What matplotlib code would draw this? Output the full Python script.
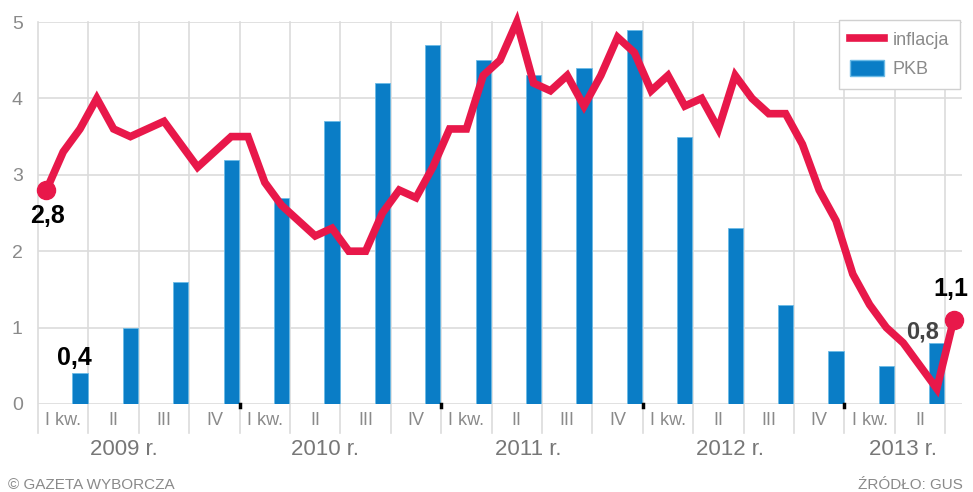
import numpy as np
import matplotlib.pyplot as plt
import matplotlib.transforms as mtransforms
from matplotlib.lines import Line2D
from matplotlib.patches import Patch

# Inflacja r/r, miesięcznie od stycznia 2009 do lipca 2013
inflacja = [2.8, 3.3, 3.6, 4.0, 3.6, 3.5, 3.6, 3.7, 3.4, 3.1, 3.3, 3.5,
            3.5, 2.9, 2.6, 2.4, 2.2, 2.3, 2.0, 2.0, 2.5, 2.8, 2.7, 3.1,
            3.6, 3.6, 4.3, 4.5, 5.0, 4.2, 4.1, 4.3, 3.9, 4.3, 4.8, 4.6,
            4.1, 4.3, 3.9, 4.0, 3.6, 4.3, 4.0, 3.8, 3.8, 3.4, 2.8, 2.4,
            1.7, 1.3, 1.0, 0.8, 0.5, 0.2, 1.1]

# PKB r/r, kwartalnie od I kw. 2009 do II kw. 2013
pkb = [0.4, 1.0, 1.6, 3.2,
       2.7, 3.7, 4.2, 4.7,
       4.5, 4.3, 4.4, 4.9,
       3.5, 2.3, 1.3, 0.7,
       0.5, 0.8]

kwartaly = ['I kw.', 'II', 'III', 'IV']
lata = ['2009 r.', '2010 r.', '2011 r.', '2012 r.', '2013 r.']
lata_x = [4.6, 16.6, 28.7, 40.7, 51.0]

RED = '#e8184a'
BLUE = '#0a7dc6'
GRAY = '#8a8a8a'
GRID = '#dcdcdc'

plt.rcParams['font.family'] = ['Liberation Sans', 'DejaVu Sans']

fig = plt.figure(figsize=(9.73, 4.92), dpi=100)
ax = fig.add_axes([38 / 973, 1 - 404 / 492, 924 / 973, 382 / 492])

n_m = len(inflacja)
n_q = len(pkb)
xm = np.arange(n_m)
xq = np.arange(n_q) * 3 + 2.0

ax.bar(xq, pkb, width=0.9, color=BLUE, edgecolor='#6cbbe6', linewidth=0.6, zorder=2)
ax.plot(xm, inflacja, color=RED, lw=5.5, solid_joinstyle='miter', zorder=4, clip_on=False)
ax.plot([xm[0], xm[-1]], [inflacja[0], inflacja[-1]], 'o', color=RED, ms=13,
        zorder=5, clip_on=False)

ax.set_xlim(-0.5, n_m - 0.5)
ax.set_ylim(0, 5)
for s in ax.spines.values():
    s.set_visible(False)

# siatka pozioma
ax.set_yticks(range(6))
ax.yaxis.grid(True, color=GRID, lw=1.2, zorder=0)
ax.tick_params(axis='y', length=0, pad=11, labelsize=14, labelcolor=GRAY)

# kreski kwartałów, wychodzą pod oś
bounds = np.arange(0, n_q + 1) * 3 - 0.5
trans = mtransforms.blended_transform_factory(ax.transData, ax.transAxes)
ax.set_xticks([])
for b in bounds:
    ax.plot([b, b], [-0.076, 1], color=GRID, lw=1.2, transform=trans,
            clip_on=False, zorder=0)
for b in bounds[4:-1:4]:
    ax.plot([b, b], [0, -0.008], color='black', lw=2.5, transform=trans,
            clip_on=False, zorder=3)

for i in range(n_q):
    ax.text(i * 3 + 1, -0.042, kwartaly[i % 4], transform=trans, ha='center',
            va='center', fontsize=13, color=GRAY)
for x, t in zip(lata_x, lata):
    ax.text(x, -0.12, t, transform=trans, ha='center', va='center',
            fontsize=16, color='#777777')

# podpisy wartości
ax.annotate('2,8', (xm[0], inflacja[0]), xytext=(1, -19), textcoords='offset points',
            ha='center', va='center', fontsize=18, fontweight='bold', color='black', zorder=6)
ax.annotate('1,1', (xm[-1], inflacja[-1]), xytext=(-2, 22), textcoords='offset points',
            ha='center', va='center', fontsize=18, fontweight='bold', color='black', zorder=6)
ax.annotate('0,4', (xq[0], pkb[0]), xytext=(-4, 11), textcoords='offset points',
            ha='center', va='center', fontsize=18, fontweight='bold', color='black', zorder=6)
ax.annotate('0,8', (xq[-1], pkb[-1]), xytext=(-10, 8), textcoords='offset points',
            ha='center', va='center', fontsize=17, fontweight='bold', color='#444444', zorder=3)

handles = [Line2D([], [], color=RED, lw=5.5),
           Patch(facecolor=BLUE, edgecolor='#6cbbe6')]
leg = ax.legend(handles, ['inflacja', 'PKB'], loc='upper right',
                bbox_to_anchor=(0.998, 1.005), borderaxespad=0, fancybox=False,
                framealpha=1, edgecolor='#d0d0d0', fontsize=13, handlelength=1.9,
                handleheight=1.0, borderpad=0.6, labelspacing=0.6, handletextpad=0.5)
for t in leg.get_texts():
    t.set_color(GRAY)
leg.set_zorder(7)

fig.text(8 / 973, 1 - 485 / 492, '© GAZETA WYBORCZA', fontsize=11, color=GRAY,
         va='center', ha='left')
fig.text(963 / 973, 1 - 485 / 492, 'ŹRÓDŁO: GUS', fontsize=11, color=GRAY,
         va='center', ha='right')

fig.savefig('out.png', dpi=100)
